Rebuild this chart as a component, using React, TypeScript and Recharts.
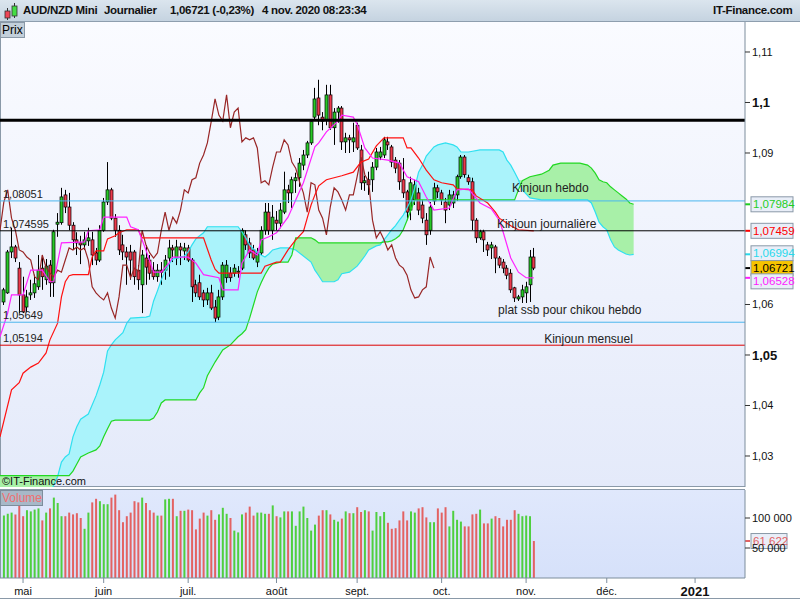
import React from 'react';
import {
  ComposedChart,
  Bar,
  Line,
  Area,
  XAxis,
  YAxis,
  ReferenceLine,
  Cell,
} from 'recharts';

// trading days: index 0 = 24 Apr 2020, index 138 = 4 Nov 2020
const opens = [
  1.0605, 1.0623, 1.0704, 1.0714, 1.0672, 1.0619, 1.0595, 1.0619, 1.0623, 1.0635,
  1.0672, 1.0649, 1.0678, 1.0643, 1.0759, 1.0762, 1.0817, 1.0793, 1.0757, 1.0728,
  1.0722, 1.0718, 1.0726, 1.0728, 1.0702, 1.0688, 1.0747, 1.0803, 1.0827, 1.0771,
  1.0747, 1.0718, 1.0704, 1.0704, 1.0704, 1.0668, 1.0639, 1.0692, 1.0688, 1.0668,
  1.0655, 1.0668, 1.0668, 1.0692, 1.0712, 1.0692, 1.0714, 1.0706, 1.0712, 1.0688,
  1.0639, 1.0643, 1.0623, 1.0609, 1.0623, 1.0595, 1.0575, 1.0615, 1.0653, 1.0662,
  1.0662, 1.0664, 1.0672, 1.0738, 1.0722, 1.0708, 1.0684, 1.0702, 1.0747, 1.0783,
  1.0747, 1.0767, 1.0761, 1.0783, 1.0827, 1.0821, 1.0845, 1.0851, 1.0876, 1.0896,
  1.0920, 1.0971, 1.1009, 1.0971, 1.0965, 1.1015, 1.0950, 1.0981, 1.0989, 1.0922,
  1.0930, 1.0922, 1.0955, 1.0906, 1.0841, 1.0847, 1.0847, 1.0872, 1.0892, 1.0896,
  1.0922, 1.0912, 1.0886, 1.0880, 1.0847, 1.0823, 1.0787, 1.0807, 1.0821, 1.0797,
  1.0767, 1.0747, 1.0805, 1.0831, 1.0821, 1.0803, 1.0797, 1.0801, 1.0817, 1.0853,
  1.0892, 1.0851, 1.0843, 1.0767, 1.0732, 1.0744, 1.0718, 1.0712, 1.0714, 1.0692,
  1.0684, 1.0672, 1.0662, 1.0633, 1.0611, 1.0615, 1.0623, 1.0639, 1.0694,
];
const highs = [
  1.0633, 1.0708, 1.0752, 1.0718, 1.0684, 1.0655, 1.0629, 1.0649, 1.0659, 1.0698,
  1.0698, 1.0690, 1.0688, 1.0748, 1.0781, 1.0831, 1.0827, 1.0821, 1.0763, 1.0743,
  1.0736, 1.0744, 1.0752, 1.0744, 1.0712, 1.0757, 1.0811, 1.0882, 1.0831, 1.0779,
  1.0757, 1.0738, 1.0714, 1.0718, 1.0708, 1.0678, 1.0708, 1.0718, 1.0698, 1.0684,
  1.0680, 1.0684, 1.0698, 1.0728, 1.0718, 1.0728, 1.0722, 1.0722, 1.0718, 1.0692,
  1.0649, 1.0659, 1.0629, 1.0633, 1.0639, 1.0609, 1.0629, 1.0684, 1.0688, 1.0674,
  1.0680, 1.0676, 1.0751, 1.0747, 1.0732, 1.0718, 1.0712, 1.0755, 1.0801, 1.0801,
  1.0797, 1.0785, 1.0801, 1.0863, 1.0837, 1.0853, 1.0861, 1.0890, 1.0906, 1.0924,
  1.0962, 1.1029, 1.1045, 1.0981, 1.1035, 1.1035, 1.0989, 1.0993, 1.0993, 1.0940,
  1.0936, 1.0960, 1.0960, 1.0916, 1.0855, 1.0863, 1.0882, 1.0910, 1.0912, 1.0932,
  1.0932, 1.0916, 1.0892, 1.0886, 1.0890, 1.0827, 1.0853, 1.0847, 1.0831, 1.0807,
  1.0781, 1.0803, 1.0841, 1.0837, 1.0827, 1.0811, 1.0827, 1.0825, 1.0857, 1.0896,
  1.0896, 1.0857, 1.0851, 1.0771, 1.0748, 1.0748, 1.0724, 1.0724, 1.0718, 1.0696,
  1.0690, 1.0678, 1.0670, 1.0635, 1.0619, 1.0639, 1.0645, 1.0708, 1.0712,
];
const lows = [
  1.0599, 1.0621, 1.0692, 1.0684, 1.0583, 1.0583, 1.0585, 1.0609, 1.0613, 1.0629,
  1.0629, 1.0639, 1.0615, 1.0615, 1.0734, 1.0758, 1.0781, 1.0747, 1.0708, 1.0698,
  1.0680, 1.0708, 1.0716, 1.0678, 1.0678, 1.0684, 1.0744, 1.0797, 1.0767, 1.0734,
  1.0698, 1.0688, 1.0639, 1.0649, 1.0639, 1.0629, 1.0583, 1.0639, 1.0649, 1.0649,
  1.0645, 1.0639, 1.0649, 1.0655, 1.0684, 1.0678, 1.0678, 1.0688, 1.0684, 1.0605,
  1.0615, 1.0609, 1.0595, 1.0599, 1.0589, 1.0565, 1.0569, 1.0609, 1.0643, 1.0645,
  1.0655, 1.0653, 1.0668, 1.0708, 1.0692, 1.0688, 1.0674, 1.0698, 1.0738, 1.0738,
  1.0728, 1.0747, 1.0751, 1.0779, 1.0801, 1.0791, 1.0821, 1.0833, 1.0866, 1.0890,
  1.0916, 1.0965, 1.0955, 1.0945, 1.0955, 1.0946, 1.0916, 1.0960, 1.0906, 1.0900,
  1.0900, 1.0902, 1.0906, 1.0827, 1.0825, 1.0817, 1.0823, 1.0866, 1.0886, 1.0890,
  1.0906, 1.0872, 1.0860, 1.0827, 1.0811, 1.0767, 1.0767, 1.0797, 1.0777, 1.0761,
  1.0718, 1.0738, 1.0797, 1.0811, 1.0797, 1.0761, 1.0787, 1.0791, 1.0805, 1.0849,
  1.0851, 1.0837, 1.0747, 1.0722, 1.0728, 1.0704, 1.0696, 1.0690, 1.0662, 1.0672,
  1.0662, 1.0650, 1.0623, 1.0605, 1.0607, 1.0603, 1.0603, 1.0605, 1.0668,
];
const closes = [
  1.0629, 1.0704, 1.0714, 1.0692, 1.0619, 1.0585, 1.0615, 1.0623, 1.0641, 1.0668,
  1.0655, 1.0676, 1.0643, 1.0744, 1.0763, 1.0813, 1.0793, 1.0757, 1.0728, 1.0722,
  1.0718, 1.0728, 1.0732, 1.0698, 1.0688, 1.0747, 1.0803, 1.0827, 1.0771, 1.0747,
  1.0708, 1.0704, 1.0694, 1.0688, 1.0655, 1.0649, 1.0698, 1.0674, 1.0662, 1.0655,
  1.0668, 1.0664, 1.0688, 1.0712, 1.0708, 1.0714, 1.0708, 1.0712, 1.0688, 1.0635,
  1.0623, 1.0615, 1.0609, 1.0623, 1.0593, 1.0573, 1.0615, 1.0678, 1.0678, 1.0653,
  1.0672, 1.0666, 1.0747, 1.0718, 1.0702, 1.0692, 1.0702, 1.0747, 1.0783, 1.0747,
  1.0773, 1.0761, 1.0787, 1.0827, 1.0821, 1.0847, 1.0851, 1.0880, 1.0896, 1.0920,
  1.0962, 1.1007, 1.0975, 1.0963, 1.1015, 1.0950, 1.0981, 1.0989, 1.0922, 1.0930,
  1.0926, 1.0930, 1.0910, 1.0841, 1.0845, 1.0837, 1.0872, 1.0902, 1.0902, 1.0926,
  1.0916, 1.0882, 1.0870, 1.0843, 1.0821, 1.0783, 1.0841, 1.0837, 1.0787, 1.0771,
  1.0738, 1.0793, 1.0831, 1.0823, 1.0807, 1.0787, 1.0817, 1.0817, 1.0853, 1.0892,
  1.0857, 1.0843, 1.0767, 1.0732, 1.0744, 1.0728, 1.0708, 1.0718, 1.0692, 1.0678,
  1.0672, 1.0658, 1.0629, 1.0613, 1.0615, 1.0629, 1.0635, 1.0694, 1.06721,
];
const volumes = [
  104000, 107000, 109000, 106000, 122000, 103000, 113000, 111000, 114000, 116000,
  96000, 109000, 116000, 134000, 125000, 103000, 103000, 109000, 106000, 108000,
  100000, 82000, 109000, 126000, 132000, 128000, 123000, 123000, 134000, 139000,
  113000, 93000, 103000, 109000, 128000, 126000, 134000, 125000, 113000, 109000,
  104000, 104000, 131000, 132000, 132000, 103000, 112000, 112000, 114000, 113000,
  81000, 99000, 109000, 104000, 113000, 97000, 106000, 117000, 107000, 100000,
  79000, 76000, 106000, 109000, 119000, 104000, 109000, 109000, 107000, 107000,
  121000, 103000, 101000, 111000, 111000, 111000, 87000, 111000, 119000, 100000,
  79000, 89000, 104000, 113000, 113000, 106000, 97000, 94000, 99000, 111000,
  108000, 108000, 118000, 110000, 113000, 111000, 79000, 110000, 103000, 110000,
  92000, 82000, 83000, 96000, 111000, 96000, 111000, 109000, 116000, 118000,
  101000, 93000, 93000, 116000, 109000, 118000, 86000, 112000, 97000, 94000,
  86000, 86000, 106000, 107000, 114000, 91000, 91000, 99000, 103000, 100000,
  86000, 97000, 97000, 113000, 107000, 103000, 104000, 103000, 61622,
];

// Tenkan (magenta) read at its turning points
const tenkanIdx = [
  -1, 1, 2, 5, 7, 10, 12, 13, 15, 21, 22, 25, 26, 32, 33, 35, 37, 39, 41, 43, 44, 48,
  50, 52, 56, 57, 61, 62, 64, 66, 67, 69, 71, 74, 76, 78, 81, 82, 84, 87, 88, 91, 92,
  94, 96, 100, 103, 105, 108, 110, 112, 116, 118, 121, 124, 127, 129, 130, 132, 134,
  136, 138,
];
const tenkanVal = [
  1.0536, 1.0583, 1.0619, 1.0619, 1.0668, 1.0668, 1.0645, 1.0645, 1.0722, 1.0724,
  1.0746, 1.0748, 1.0773, 1.0773, 1.0754, 1.0748, 1.0708, 1.0664, 1.0664, 1.0682,
  1.0694, 1.0694, 1.0682, 1.0659, 1.0653, 1.0629, 1.0629, 1.0682, 1.0708, 1.0698,
  1.0728, 1.0734, 1.0742, 1.0773, 1.0807, 1.0841, 1.0912, 1.092, 1.0942, 1.0963,
  1.0975, 1.0971, 1.0957, 1.091, 1.089, 1.0886, 1.088, 1.0853, 1.0843, 1.0813,
  1.0787, 1.0791, 1.0827, 1.0829, 1.0801, 1.0789, 1.0767, 1.0744, 1.0692, 1.0664,
  1.0653, 1.06528,
];

// Kijun (red) read at its turning points
const kijunIdx = [
  -1, 2, 4, 5, 7, 9, 11, 12, 14, 15, 16, 17, 18, 22, 23, 24, 26, 27, 29, 30, 32, 35,
  36, 52, 53, 54, 55, 56, 67, 68, 71, 72, 74, 76, 78, 79, 80, 81, 82, 84, 88, 91, 93,
  95, 97, 99, 104, 105, 106, 108, 110, 112, 114, 117, 118, 122, 123, 126, 128, 129,
  132, 134, 138,
];
const kijunVal = [
  1.0338, 1.0431, 1.0445, 1.0464, 1.0476, 1.0484, 1.0504, 1.053, 1.0563, 1.0615,
  1.0645, 1.0657, 1.0659, 1.0659, 1.0694, 1.0706, 1.0706, 1.073, 1.0736, 1.0742,
  1.0748, 1.0748, 1.0732, 1.0732, 1.071, 1.0688, 1.067, 1.0662, 1.0662, 1.0676,
  1.0684, 1.0684, 1.0708, 1.0728, 1.0744, 1.0771, 1.0797, 1.0817, 1.0835, 1.0847,
  1.0855, 1.0862, 1.0882, 1.0888, 1.0914, 1.093, 1.093, 1.091, 1.091, 1.089,
  1.0866, 1.0847, 1.0841, 1.0837, 1.0829, 1.0827, 1.0815, 1.0801, 1.0783, 1.0771,
  1.0756, 1.0748, 1.07459,
];

// Ichimoku cloud, projected 26 days ahead (SSA green edge, SSB cyan edge)
const cloudIdx = [
  -1, 3, 8, 12, 13, 14, 15, 16, 17, 18, 19, 20, 22, 24, 25, 26, 27, 28, 29, 31, 32,
  33, 37, 38, 39, 40, 41, 42, 43, 44, 47, 48, 49, 50, 51, 52, 53, 55, 57, 59, 61, 62,
  63, 64, 65, 66, 67, 68, 69, 70, 72, 74, 75, 76, 80, 81, 82, 83, 86, 87, 88, 90, 92,
  93, 94, 95, 97, 98, 99, 100, 101, 102, 103, 104, 105, 106, 107, 108, 109, 110, 112,
  113, 115, 117, 118, 119, 121, 124, 129, 130, 131, 132, 133, 134, 135, 137, 140, 142,
  143, 145, 150, 152, 153, 154, 155, 156, 157, 158, 159, 160, 161, 162, 163, 164,
];
const ssaVal = [
  1.0261, 1.0261, 1.0261, 1.0261, 1.0261, 1.0261, 1.0261, 1.0261, 1.0261, 1.027,
  1.0284, 1.0298, 1.0306, 1.0312, 1.032, 1.0338, 1.0354, 1.0369, 1.0371, 1.0371,
  1.0371, 1.0371, 1.0371, 1.0371, 1.0375, 1.0387, 1.0405, 1.0411, 1.0411, 1.0411,
  1.0411, 1.0411, 1.0411, 1.0411, 1.0425, 1.0435, 1.0459, 1.0486, 1.051, 1.052,
  1.0536, 1.0542, 1.055, 1.0573, 1.0599, 1.0625, 1.0643, 1.0659, 1.0672, 1.068,
  1.0684, 1.0684, 1.0698, 1.0732, 1.0732, 1.0728, 1.0722, 1.0722, 1.0722, 1.0722,
  1.0722, 1.0722, 1.0722, 1.0722, 1.0722, 1.0722, 1.0722, 1.0722, 1.0724, 1.0724,
  1.0726, 1.073, 1.0736, 1.0748, 1.0767, 1.0787, 1.0807, 1.0807, 1.0807, 1.0807,
  1.0807, 1.0807, 1.0807, 1.0807, 1.0807, 1.0807, 1.0807, 1.0807, 1.0807, 1.0807,
  1.0807, 1.0807, 1.0807, 1.0827, 1.0845, 1.0853, 1.0858, 1.0866, 1.0876, 1.088,
  1.088, 1.0876, 1.087, 1.086, 1.0847, 1.0843, 1.0841, 1.0833, 1.0827, 1.0821,
  1.0815, 1.0809, 1.0801, 1.07984,
];
const ssbVal = [
  1.0154, 1.0169, 1.0199, 1.0223, 1.0243, 1.0259, 1.0288, 1.0298, 1.0304, 1.0338,
  1.0358, 1.0373, 1.0383, 1.0419, 1.0441, 1.0466, 1.0508, 1.052, 1.053, 1.0544,
  1.0563, 1.0573, 1.0575, 1.0577, 1.0607, 1.0627, 1.0649, 1.0666, 1.068, 1.069,
  1.0696, 1.0704, 1.0718, 1.073, 1.0736, 1.0742, 1.0754, 1.0754, 1.0754, 1.0754,
  1.0754, 1.0744, 1.0732, 1.0718, 1.071, 1.0704, 1.0698, 1.0694, 1.07, 1.0708,
  1.0712, 1.0712, 1.071, 1.0708, 1.0684, 1.0668, 1.0657, 1.0645, 1.0645, 1.0649,
  1.0661, 1.0664, 1.0676, 1.0686, 1.0696, 1.0708, 1.0716, 1.0718, 1.0728, 1.0738,
  1.0748, 1.0756, 1.0767, 1.0777, 1.0791, 1.0807, 1.0831, 1.0862, 1.0876, 1.0894,
  1.0912, 1.0916, 1.092, 1.0916, 1.0912, 1.0902, 1.0902, 1.0906, 1.0906, 1.0902,
  1.0886, 1.0876, 1.0862, 1.0847, 1.0827, 1.0811, 1.0807, 1.0807, 1.0807, 1.0807,
  1.0807, 1.0807, 1.0801, 1.0783, 1.0763, 1.0754, 1.0748, 1.0728, 1.0714, 1.0708,
  1.0704, 1.07, 1.0698, 1.06994,
];

const monthTicks = [5, 26, 48, 71, 92, 114, 136, 157, 180];
const monthLabels = ['mai', 'juin', 'juil.', 'août', 'sept.', 'oct.', 'nov.', 'déc.', '2021'];
const priceTicks = [1.03, 1.04, 1.05, 1.06, 1.09, 1.1, 1.11];

const resistance = 1.0965;
const levelValues = [1.08051, 1.074595, 1.05649, 1.05194];
const levelTexts = ['1,08051', '1,074595', '1,05649', '1,05194'];
const levelNotes = ['Kinjoun hebdo', 'Kinjoun journalière', 'plat ssb pour chikou hebdo', 'Kinjoun mensuel'];
const levelNoteAt = [132.3, 128.4, 128.7, 140.7];

const lastValues = [1.07984, 1.07459, 1.06994, 1.06721, 1.06528];
const lastTexts = ['1,07984', '1,07459', '1,06994', '1,06721', '1,06528'];

const LAG = 26;
const X_DOMAIN: [number, number] = [-1, 193];
const FONT = '"Liberation Sans", Arial, sans-serif';
const UP = '#27c927';
const DOWN = '#ec3a4c';

const levelColors = ['#4bb6ee', '#000000', '#4bb6ee', '#dd0000'];
const levelNoteDy = [-9, -3, -8, -2];
const lastColors = ['#1fcf1f', '#ff0000', '#28d9ec', '#000000', '#ff1aff'];
const lastShift = [0, 0, -1, 0, 3.5];

const rows: any[] = [];
for (let i = -1; i <= 164; i++) {
  const r: any = { i };
  if (i >= 0 && i < closes.length) {
    r.o = opens[i];
    r.h = highs[i];
    r.l = lows[i];
    r.c = closes[i];
  }
  const t = tenkanIdx.indexOf(i);
  if (t >= 0) r.tk = tenkanVal[t];
  const k = kijunIdx.indexOf(i);
  if (k >= 0) r.kj = kijunVal[k];
  // lagging span: close plotted 26 days back
  if (i + LAG >= 0 && i + LAG < closes.length) r.ck = closes[i + LAG];
  const cl = cloudIdx.indexOf(i);
  if (cl >= 0) {
    r.ssa = ssaVal[cl];
    r.ssb = ssbVal[cl];
  }
  rows.push(r);
}

const volRows = volumes.map((v, i) => ({ i, v, up: closes[i] >= opens[i] }));

function Candle(props: any) {
  const { x, y, width, height, payload } = props;
  if (payload == null || payload.h == null) return null;
  const top = Math.min(y, y + height);
  const span = Math.abs(height);
  const k = span / (payload.h - payload.l || 1);
  const py = (v: number) => top + (payload.h - v) * k;
  const cx = Math.round(x + width / 2);
  const up = payload.c >= payload.o;
  const b1 = py(Math.max(payload.o, payload.c));
  const b2 = py(Math.min(payload.o, payload.c));
  return (
    <g>
      <line x1={cx + 0.5} x2={cx + 0.5} y1={top} y2={top + span} stroke="#000" strokeWidth={1} />
      <rect
        x={cx - 1}
        y={b1}
        width={3}
        height={Math.max(1, b2 - b1)}
        fill={up ? UP : DOWN}
        stroke="#000"
        strokeWidth={0.7}
      />
    </g>
  );
}

function PriceTick(props: any) {
  const { x, y, payload } = props;
  const big = payload.value === 1.1 || payload.value === 1.05;
  return (
    <text
      x={x}
      y={y}
      dy={big ? 5 : 4}
      fontSize={big ? 13 : 11}
      fontWeight={big ? 'bold' : 'normal'}
      fill="#111"
      fontFamily={FONT}
    >
      {String(payload.value).replace('.', ',')}
    </text>
  );
}

function MonthTick(props: any) {
  const { x, y, payload } = props;
  const idx = monthTicks.indexOf(payload.value);
  const year = monthLabels[idx] === '2021';
  return (
    <text
      x={x}
      y={y}
      dy={year ? 11 : 10}
      textAnchor="middle"
      fontSize={year ? 13 : 11}
      fontWeight={year ? 'bold' : 'normal'}
      fill="#111"
      fontFamily={FONT}
    >
      {monthLabels[idx]}
    </text>
  );
}

function LevelLabel(props: any) {
  const { viewBox, text, note, noteAt, noteDy } = props;
  if (!viewBox) return null;
  const nx = viewBox.x + ((noteAt - X_DOMAIN[0]) / (X_DOMAIN[1] - X_DOMAIN[0])) * viewBox.width;
  return (
    <g fontFamily={FONT}>
      <text x={viewBox.x + 3} y={viewBox.y - 3} fontSize={11} fill="#222">
        {text}
      </text>
      <text x={nx} y={viewBox.y + noteDy} fontSize={12} fill="#222">
        {note}
      </text>
    </g>
  );
}

function ValueBox(props: any) {
  const { viewBox, text, color, bg, shift, w } = props;
  if (!viewBox) return null;
  const x = viewBox.x + viewBox.width;
  const y = viewBox.y + (shift || 0);
  return (
    <g fontFamily={FONT}>
      <line x1={x} x2={x + 5} y1={viewBox.y} y2={viewBox.y} stroke={color} strokeWidth={2} />
      <rect x={x + 6} y={y - 7.5} width={w || 42} height={15} fill={bg} stroke="#8a99a8" />
      <text x={x + 8} y={y + 4} fontSize={11.5} fill={color}>
        {text}
      </text>
    </g>
  );
}

const volFmt = (v: number) => `${Math.floor(v / 1000)} ${String(v % 1000).padStart(3, '0')}`;

const headStyle: React.CSSProperties = {
  position: 'absolute',
  top: 4,
  fontSize: 11.5,
  fontWeight: 'bold',
  letterSpacing: -0.3,
  color: '#111',
  whiteSpace: 'nowrap',
};

export default function App() {
  return (
    <div
      style={{
        position: 'absolute',
        left: 0,
        top: 0,
        width: 800,
        height: 600,
        background: '#ffffff',
        fontFamily: FONT,
        overflow: 'hidden',
      }}
    >
      {/* header */}
      <div
        style={{
          position: 'absolute',
          left: 0,
          top: 0,
          width: 800,
          height: 21,
          background: 'linear-gradient(#dbe5ee, #c5d3e0)',
          borderBottom: '1px solid #8e9eae',
        }}
      >
        <svg width={18} height={20} style={{ position: 'absolute', left: 2, top: 1 }}>
          <line x1={5.5} x2={5.5} y1={7} y2={19} stroke="#333" />
          <rect x={3} y={10} width={5} height={7} fill="#ee4455" stroke="#333" strokeWidth={0.8} />
          <line x1={12.5} x2={12.5} y1={2} y2={17} stroke="#333" />
          <rect x={10} y={5} width={5} height={10} fill="#44dd44" stroke="#333" strokeWidth={0.8} />
        </svg>
        <span style={{ ...headStyle, left: 23 }}>AUD/NZD Mini</span>
        <span style={{ ...headStyle, left: 104 }}>Journalier</span>
        <span style={{ ...headStyle, left: 170 }}>1,06721 (-0,23%)</span>
        <span style={{ ...headStyle, left: 262 }}>4 nov. 2020 08:23:34</span>
        <span style={{ ...headStyle, left: 713 }}>IT-Finance.com</span>
      </div>

      {/* price panel background */}
      <div
        style={{
          position: 'absolute',
          left: 0,
          top: 22,
          width: 744,
          height: 464,
          background: 'linear-gradient(#fafbff, #e4eafa)',
          borderLeft: '1px solid #8a99a8',
          borderBottom: '1px solid #8a99a8',
        }}
      />
      {/* volume panel background */}
      <div
        style={{
          position: 'absolute',
          left: 0,
          top: 489,
          width: 744,
          height: 88,
          background: 'linear-gradient(#e0e8fc, #d6e1fa)',
          borderLeft: '1px solid #8a99a8',
          borderTop: '1px solid #8a99a8',
        }}
      />

      <div style={{ position: 'absolute', left: 0, top: 22 }}>
        <ComposedChart width={800} height={465} data={rows} margin={{ top: 0, right: 0, bottom: 0, left: 0 }}>
          <XAxis dataKey="i" type="number" domain={X_DOMAIN} hide allowDataOverflow />
          <YAxis
            orientation="right"
            width={55}
            domain={[1.02386, 1.11594]}
            allowDataOverflow
            ticks={priceTicks}
            tick={<PriceTick />}
            tickSize={5}
            tickLine={{ stroke: '#333' }}
            axisLine={{ stroke: '#7d8d9c' }}
            interval={0}
          />
          <Area
            dataKey={(r: any) => (r.ssa == null ? null : [r.ssa, Math.max(r.ssa, r.ssb)])}
            fill="#aaf3fb"
            fillOpacity={1}
            stroke="none"
            connectNulls
            isAnimationActive={false}
          />
          <Area
            dataKey={(r: any) => (r.ssa == null ? null : [r.ssb, Math.max(r.ssa, r.ssb)])}
            fill="#a8f0a8"
            fillOpacity={1}
            stroke="none"
            connectNulls
            isAnimationActive={false}
          />
          <Line dataKey="ssb" stroke="#2fe0f0" strokeWidth={1.2} dot={false} connectNulls isAnimationActive={false} />
          <Line dataKey="ssa" stroke="#22d822" strokeWidth={1.2} dot={false} connectNulls isAnimationActive={false} />
          <Bar
            dataKey={(r: any) => (r.h == null ? null : [r.l, r.h])}
            barSize={3}
            shape={<Candle />}
            isAnimationActive={false}
          />
          <Line dataKey="ck" stroke="#982626" strokeWidth={1.2} dot={false} connectNulls isAnimationActive={false} />
          <Line dataKey="kj" stroke="#ff1111" strokeWidth={1.2} dot={false} connectNulls isAnimationActive={false} />
          <Line dataKey="tk" stroke="#ff22ff" strokeWidth={1.2} dot={false} connectNulls isAnimationActive={false} />
          <ReferenceLine y={resistance} stroke="#000" strokeWidth={3} />
          {levelValues.map((v, k) => (
            <ReferenceLine
              key={'lv' + k}
              y={v}
              stroke={levelColors[k]}
              strokeWidth={1}
              label={
                <LevelLabel text={levelTexts[k]} note={levelNotes[k]} noteAt={levelNoteAt[k]} noteDy={levelNoteDy[k]} />
              }
            />
          ))}
          {lastValues.map((v, k) => (
            <ReferenceLine
              key={'lb' + k}
              y={v}
              stroke="none"
              label={
                <ValueBox
                  text={lastTexts[k]}
                  color={lastColors[k]}
                  bg={k === 3 ? '#f7c400' : '#e9eef8'}
                  shift={lastShift[k]}
                />
              }
            />
          ))}
        </ComposedChart>
      </div>

      {/* Prix tag */}
      <div
        style={{
          position: 'absolute',
          left: 0,
          top: 22,
          width: 22,
          height: 14,
          background: '#c3cfda',
          border: '1px solid #8a99a8',
          fontSize: 12,
          lineHeight: '14px',
          paddingLeft: 1,
        }}
      >
        Prix
      </div>
      <div style={{ position: 'absolute', left: 2, top: 475, fontSize: 11, color: '#111' }}>©IT-Finance.com</div>

      <div style={{ position: 'absolute', left: 0, top: 490 }}>
        <ComposedChart width={800} height={110} data={volRows} margin={{ top: 0, right: 0, bottom: 0, left: 0 }}>
          <XAxis
            dataKey="i"
            type="number"
            domain={X_DOMAIN}
            allowDataOverflow
            ticks={monthTicks}
            interval={0}
            tick={<MonthTick />}
            tickSize={5}
            height={22}
            tickLine={{ stroke: '#7d8d9c' }}
            axisLine={{ stroke: '#7d8d9c' }}
          />
          <YAxis
            orientation="right"
            width={55}
            domain={[0, 146667]}
            allowDataOverflow
            ticks={[50000, 100000]}
            tickFormatter={volFmt}
            tick={{ fontSize: 11, fill: '#111', fontFamily: FONT }}
            tickSize={5}
            tickLine={{ stroke: '#333' }}
            axisLine={{ stroke: '#7d8d9c' }}
          />
          <Bar dataKey="v" barSize={2} isAnimationActive={false}>
            {volRows.map((r) => (
              <Cell key={r.i} fill={r.up ? '#4fcf3f' : '#e36262'} />
            ))}
          </Bar>
          <ReferenceLine
            y={volumes[volumes.length - 1]}
            stroke="none"
            label={<ValueBox text={volFmt(volumes[volumes.length - 1])} color="#e36262" bg="#e9eef8" shift={0} w={36} />}
          />
        </ComposedChart>
      </div>

      {/* Volume tag */}
      <div
        style={{
          position: 'absolute',
          left: 0,
          top: 490,
          width: 40,
          height: 14,
          background: '#a7b8c8',
          border: '1px solid #7d8d9c',
          fontSize: 12,
          lineHeight: '14px',
          color: '#f07070',
          paddingLeft: 1,
        }}
      >
        Volume
      </div>
      <div
        style={{
          position: 'absolute',
          left: 0,
          top: 598,
          width: 800,
          height: 2,
          borderTop: '1px solid #8a99a8',
        }}
      />
    </div>
  );
}
